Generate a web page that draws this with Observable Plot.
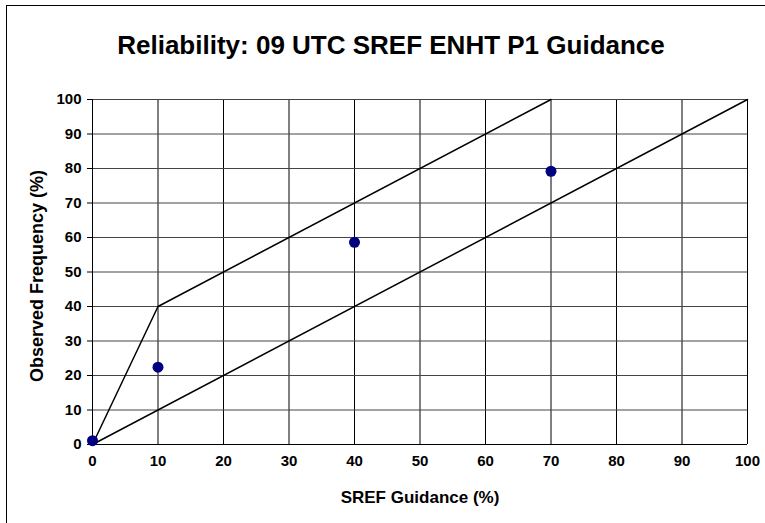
<!DOCTYPE html>
<html>
<head>
<meta charset="utf-8">
<script src="https://cdn.jsdelivr.net/npm/d3@7"></script>
<script src="https://cdn.jsdelivr.net/npm/@observablehq/plot@0.6"></script>
<style>
  html, body { margin: 0; padding: 0; background: #fff; }
  #wrap { position: relative; width: 765px; height: 523px; overflow: hidden; font-family: "Liberation Sans", Arial, sans-serif; }
  #frame { position: absolute; left: 6px; top: 5px; width: 800px; height: 600px; border: 1px solid #000; box-sizing: border-box; }
  #title { position: absolute; left: 0; width: 782px; top: 32px; line-height: 26px; text-align: center; font-size: 26px; font-weight: bold; color: #000; }
  #chart { position: absolute; left: 0; top: 0; }
</style>
</head>
<body>
<div id="wrap">
  <div id="frame"></div>
  <div id="title">Reliability: 09 UTC SREF ENHT P1 Guidance</div>
  <div id="chart"></div>
</div>
<script>
const guidance = [0, 10, 40, 70];
const observed = [1.1, 22.4, 58.6, 79.2];
const upperX = [0, 10, 70];
const upperY = [0, 40, 100];
const diagX = [0, 100];
const diagY = [0, 100];
const ticks = [0, 10, 20, 30, 40, 50, 60, 70, 80, 90, 100];

const points = guidance.map((g, i) => ({x: g, y: observed[i]}));
const upper = upperX.map((v, i) => ({x: v, y: upperY[i]}));
const diag = diagX.map((v, i) => ({x: v, y: diagY[i]}));

const plot = Plot.plot({
  width: 765,
  height: 523,
  marginLeft: 92,
  marginRight: 18,
  marginTop: 99,
  marginBottom: 79,
  style: { fontFamily: "Liberation Sans, Arial, sans-serif", fontSize: "15px", fontWeight: "bold", background: "transparent", color: "#000" },
  x: { domain: [0, 100], ticks: ticks, label: null },
  y: { domain: [0, 100], ticks: ticks, label: null },
  marks: [
    Plot.gridX(ticks, { stroke: "#000", strokeOpacity: 1, strokeWidth: 1 }),
    Plot.gridY(ticks, { stroke: "#444", strokeOpacity: 1, strokeWidth: 1 }),
    Plot.axisY({ ticks: ticks, tickSize: 5, tickPadding: 6, label: null, fontWeight: "bold", fontSize: 15 }),
    Plot.axisX({ ticks: ticks, tickSize: 0, tickPadding: 11, label: null, fontWeight: "bold", fontSize: 15 }),
    Plot.ruleX([0], { stroke: "#000" }),
    Plot.ruleY([0], { stroke: "#000" }),
    Plot.line(diag, { x: "x", y: "y", stroke: "#000", strokeWidth: 1.5 }),
    Plot.line(upper, { x: "x", y: "y", stroke: "#000", strokeWidth: 1.5 }),
    Plot.dot(points, { x: "x", y: "y", r: 5.5, fill: "#000080", stroke: "none" }),
    Plot.text(["SREF Guidance (%)"], { frameAnchor: "bottom", lineAnchor: "middle", textAnchor: "middle", dy: 53, text: d => d, fontSize: 17, fontWeight: "bold", fill: "#000" }),
    Plot.text(["Observed Frequency (%)"], { frameAnchor: "left", lineAnchor: "middle", textAnchor: "middle", dx: -55, dy: 4, rotate: -90, text: d => d, fontSize: 18, fontWeight: "bold", fill: "#000" })
  ]
});
document.getElementById("chart").appendChild(plot);
</script>
</body>
</html>
